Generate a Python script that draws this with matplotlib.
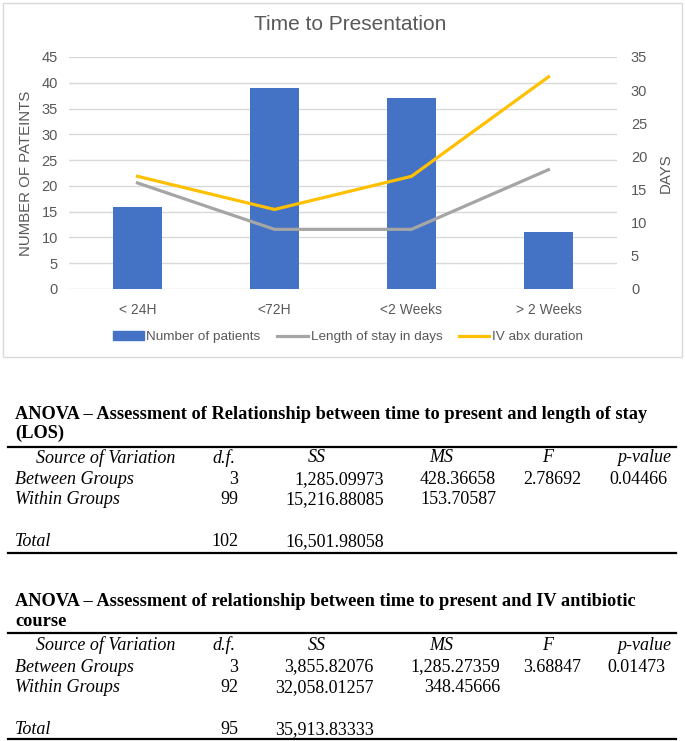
import numpy as np
import matplotlib.pyplot as plt
from matplotlib.lines import Line2D
from matplotlib.patches import Patch, Rectangle

# chart data
categories = ['< 24H', '<72H', '<2 Weeks', '> 2 Weeks']
patients = [16, 39, 37, 11]
length_of_stay = [16, 9, 9, 18]
iv_abx_days = [17, 12, 17, 32]

# ANOVA tables
headers = ['Source of Variation', 'd.f.', 'SS', 'MS', 'F', 'p-value']
los_title = ['ANOVA \u2013 Assessment of Relationship between time to present and length of stay', '(LOS)']
los_rows = [
    ['Between Groups', '3', '1,285.09973', '428.36658', '2.78692', '0.04466'],
    ['Within Groups', '99', '15,216.88085', '153.70587', '', ''],
    ['Total', '102', '16,501.98058', '', '', ''],
]
iv_title = ['ANOVA \u2013 Assessment of relationship between time to present and IV antibiotic', 'course']
iv_rows = [
    ['Between Groups', '3', '3,855.82076', '1,285.27359', '3.68847', '0.01473'],
    ['Within Groups', '92', '32,058.01257', '348.45666', '', ''],
    ['Total', '95', '35,913.83333', '', '', ''],
]

W, H = 685, 741
fig = plt.figure(figsize=(W / 100, H / 100), dpi=100)
plt.rcParams['font.family'] = ['Liberation Sans', 'DejaVu Sans']


def fx(px):
    return px / W


def fy(py):
    return 1 - py / H


blue = '#4472C4'
grey = '#A5A5A5'
gold = '#FFC000'
txt = '#595959'

# chart frame
fig.patches.append(Rectangle((fx(3), fy(357)), fx(679), 354 / H, transform=fig.transFigure,
                             fill=False, edgecolor='#D9D9D9', linewidth=1))

ax = fig.add_axes([fx(69), fy(289), fx(548), 232 / H])
x = np.arange(len(categories))
ax.bar(x, patients, width=0.36, color=blue, zorder=2)
ax.set_xlim(-0.5, len(categories) - 0.5)
ax.set_ylim(0, 45)
ax.set_yticks(range(0, 46, 5))
ax.set_xticks(x)
ax.set_xticklabels(categories)
ax.grid(axis='y', color='#D9D9D9', linewidth=1, zorder=0)
for s in ax.spines.values():
    s.set_visible(False)
ax.tick_params(length=0, colors=txt, labelsize=10.5)
ax.tick_params(axis='x', pad=10, labelsize=10)
ax.tick_params(axis='y', pad=8)
ax.set_ylabel('NUMBER OF PATEINTS', color=txt, fontsize=10.8, labelpad=6)

ax2 = ax.twinx()
ax2.plot(x, length_of_stay, color=grey, linewidth=2.3, zorder=3)
ax2.plot(x, iv_abx_days, color=gold, linewidth=2.3, zorder=4)
ax2.set_ylim(0, 35)
ax2.set_yticks(range(0, 36, 5))
for s in ax2.spines.values():
    s.set_visible(False)
ax2.tick_params(length=0, colors=txt, labelsize=10.5, pad=10)
ax2.set_ylabel('DAYS', color=txt, fontsize=10.8, labelpad=8)

fig.text(fx(350), fy(25), 'Time to Presentation', ha='center', va='center', fontsize=15, color=txt)

handles = [Patch(color=blue), Line2D([], [], color=grey, linewidth=2.3), Line2D([], [], color=gold, linewidth=2.3)]
fig.legend(handles, ['Number of patients', 'Length of stay in days', 'IV abx duration'],
           loc='center', bbox_to_anchor=(fx(348), fy(337)), ncol=3, frameon=False, fontsize=9.7,
           labelcolor=txt, handlelength=2.3, handletextpad=0.2, columnspacing=1.2)

# tables
serif = ['Liberation Serif', 'DejaVu Serif']
col_head_x = [106, 224, 317, 441, 548, 644]
fs = 13


def draw_table(title, rows, title_y, rule_top, head_y, row_y, rule_bot, num_right):
    for line, yy in zip(title, title_y):
        fig.text(fx(15), fy(yy), line, ha='left', va='center', family=serif, fontsize=13.2,
                 fontweight='bold')
    fig.add_artist(Line2D([fx(8), fx(676)], [fy(rule_top)] * 2, color='black', linewidth=1.6))
    fig.add_artist(Line2D([fx(8), fx(676)], [fy(rule_bot)] * 2, color='black', linewidth=1.6))
    for h, cx in zip(headers, col_head_x):
        fig.text(fx(cx), fy(head_y), h, ha='center', va='center', family=serif, fontsize=fs,
                 style='italic')
    for row, yy in zip(rows, row_y):
        fig.text(fx(15), fy(yy), row[0], ha='left', va='center', family=serif, fontsize=fs,
                 style='italic')
        for val, rx in zip(row[1:], num_right):
            if val:
                fig.text(fx(rx), fy(yy), val, ha='right', va='center', family=serif, fontsize=fs)


draw_table(los_title, los_rows, [414, 433], 447, 458, [480, 500, 542], 553,
           [238, 384, 496, 581, 667])
draw_table(iv_title, iv_rows, [601, 622], 633, 645, [667, 688, 730], 739,
           [238, 374, 500, 581, 666])

fig.savefig('out.png', dpi=100)
